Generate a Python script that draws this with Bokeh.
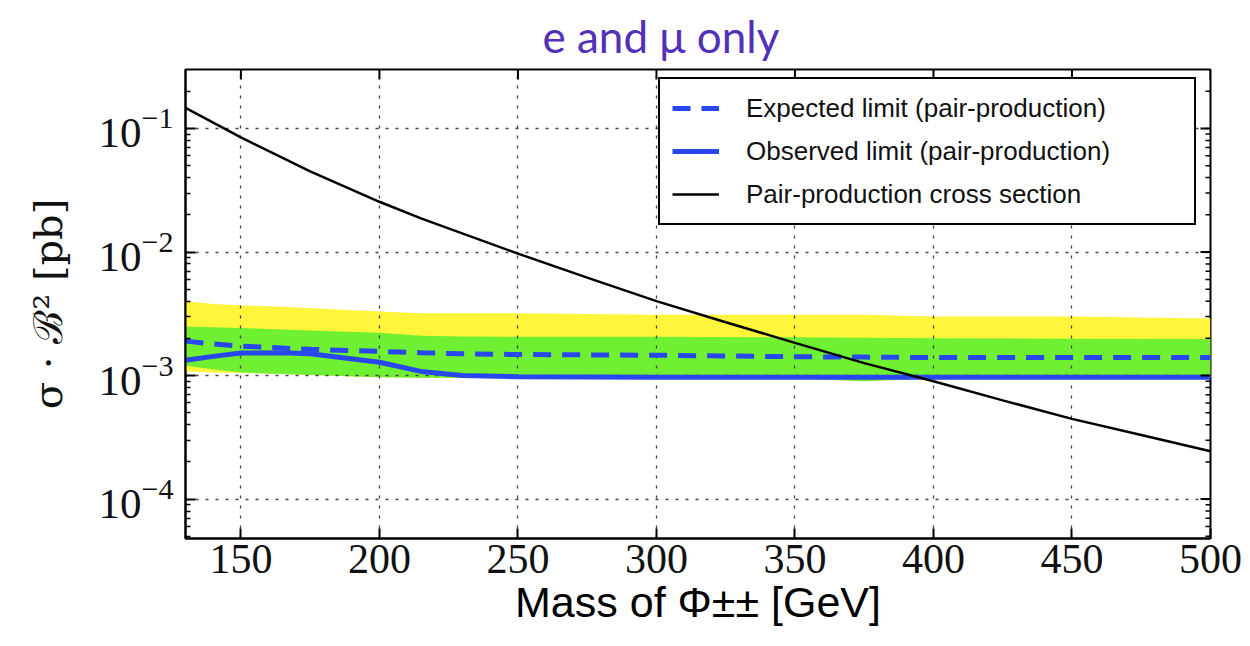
import math
from bokeh.plotting import figure
from bokeh.models import Legend, LegendItem, FixedTicker, Range1d
from bokeh.embed import file_html
from bokeh.resources import INLINE

# ---------------- data ----------------
mass_band = [130, 140, 150, 165, 175, 200, 215, 230, 250, 300, 350, 375, 400, 450, 500]
yellow_top = [0.0040, 0.0038, 0.0037, 0.0036, 0.0035, 0.0033, 0.0032, 0.0032, 0.0032,
              0.0031, 0.0031, 0.0031, 0.0030, 0.0030, 0.0029]
yellow_bot = [0.00108, 0.00106, 0.00105, 0.00103, 0.00101, 0.00097, 0.00096, 0.00096,
              0.00096, 0.00096, 0.00095, 0.00090, 0.00095, 0.00096, 0.00096]
green_top = [0.00250, 0.00246, 0.00243, 0.00236, 0.00232, 0.00222, 0.00210, 0.00207,
             0.00206, 0.00206, 0.00204, 0.00202, 0.00200, 0.00199, 0.00198]
green_bot = [0.00120, 0.00112, 0.00106, 0.00103, 0.00101, 0.00097, 0.00096, 0.00096,
             0.00096, 0.00096, 0.00095, 0.00090, 0.00095, 0.00096, 0.00096]
expected = [0.00190, 0.00180, 0.00173, 0.00167, 0.00163, 0.00157, 0.00153, 0.00150,
            0.00148, 0.00146, 0.00142, 0.00141, 0.00140, 0.00140, 0.00140]
observed = [0.00133, 0.00143, 0.00152, 0.00153, 0.00150, 0.00128, 0.00108, 0.00100,
            0.00098, 0.00097, 0.00097, 0.00097, 0.00097, 0.00097, 0.00097]

mass_xs = [130, 150, 175, 200, 215, 250, 275, 300, 325, 350, 375, 400, 425, 450, 475, 500]
xsec = [0.147, 0.0846, 0.045, 0.0255, 0.0187, 0.0097, 0.0062, 0.0040, 0.0027, 0.00184,
        0.00126, 0.00090, 0.00063, 0.000446, 0.00033, 0.000244]

x_ticks = [150, 200, 250, 300, 350, 400, 450, 500]
y_ticks = [1e-4, 1e-3, 1e-2, 1e-1]
y_minor = [m * 10.0 ** e for e in range(-5, 0) for m in range(2, 10)]

title_text = "e and μ only"
x_label = "Mass of Φ±± [GeV]"
y_label = "σ · ℬ² [pb]"
legend_labels = ["Expected limit (pair-production)",
                 "Observed limit (pair-production)",
                 "Pair-production cross section"]

# ---------------- figure ----------------
X0, X1 = 130, 500
Y0, Y1 = 4.8e-5, 0.3
FW, FH = 1025, 469   # frame size in px
p = figure(width=1250, height=646, x_range=Range1d(X0, X1),
           y_range=Range1d(Y0, Y1), y_axis_type="log",
           output_backend="svg", toolbar_location=None,
           min_border_left=185, min_border_right=40,
           min_border_top=69, min_border_bottom=108)
p.background_fill_color = "white"
p.outline_line_color = "black"
p.outline_line_width = 2

p.title.text = title_text
p.title.text_font = "Lato"
p.title.text_font_size = "44px"
p.title.text_font_style = "normal"
p.title.text_color = "#5230B8"
p.title.align = "left"
p.title.offset = 357
p.title.standoff = 15

BLUE = "#2848EE"
p.varea(x=mass_band, y1=yellow_bot, y2=yellow_top, fill_color="#FFF53A", level="image")
p.varea(x=mass_band, y1=green_bot, y2=green_top, fill_color="#70F032", level="image")
r_exp = p.line(mass_band, expected, line_color=BLUE, line_width=5, line_dash="18 11")
r_obs = p.line(mass_band, observed, line_color=BLUE, line_width=5)
r_xs = p.line(mass_xs, xsec, line_color="black", line_width=2.5)

xt = FixedTicker(ticks=x_ticks, minor_ticks=[])
yt = FixedTicker(ticks=y_ticks, minor_ticks=y_minor)

tick_font = "Liberation Serif"
for ax in (p.xaxis[0], p.yaxis[0]):
    ax.axis_line_width = 2
    ax.major_tick_in = 10
    ax.major_tick_out = 0
    ax.minor_tick_in = 5
    ax.minor_tick_out = 0
    ax.major_tick_line_width = 2
    ax.minor_tick_line_width = 1.5
    ax.major_label_text_font = tick_font
    ax.major_label_text_color = "#111111"
p.yaxis[0].major_label_text_font_size = "43px"
p.xaxis[0].major_label_text_font_size = "42px"

p.xaxis[0].ticker = xt
p.xaxis[0].major_label_standoff = 6
p.xaxis[0].axis_label = x_label
p.xaxis[0].axis_label_text_font = "Liberation Sans"
p.xaxis[0].axis_label_text_font_style = "normal"
p.xaxis[0].axis_label_text_font_size = "43px"
p.xaxis[0].axis_label_text_color = "black"
p.xaxis[0].axis_label_standoff = 2

p.yaxis[0].ticker = yt
p.yaxis[0].major_label_standoff = 12
p.yaxis[0].axis_label = y_label
p.yaxis[0].axis_label_text_font = "DejaVu Serif"
p.yaxis[0].axis_label_text_font_style = "normal"
p.yaxis[0].axis_label_text_font_size = "40px"
p.yaxis[0].axis_label_text_color = "#111111"
p.yaxis[0].axis_label_standoff = 24

# mirrored ticks on the top and right edges (lengths converted from px to data units)
dx_major = (X1 - X0) * 10 / FW
lg = math.log10(Y1 / Y0)
fy_major = 10 ** (-lg * 10 / FH)
dx_minor = dx_major / 2
p.segment(x0=x_ticks, y0=[Y1] * len(x_ticks), x1=x_ticks,
          y1=[Y1 * fy_major] * len(x_ticks), line_color="black", line_width=2)
p.segment(x0=[X1] * len(y_ticks), y0=y_ticks, x1=[X1 - dx_major] * len(y_ticks),
          y1=y_ticks, line_color="black", line_width=2)
ym_in = [v for v in y_minor if Y0 <= v <= Y1]
p.segment(x0=[X1] * len(ym_in), y0=ym_in, x1=[X1 - dx_minor] * len(ym_in),
          y1=ym_in, line_color="black", line_width=1.5)

p.xgrid.ticker = xt
p.ygrid.ticker = FixedTicker(ticks=y_ticks)
for g in (p.xgrid[0], p.ygrid[0]):
    g.grid_line_color = "#444444"
    g.grid_line_dash = "3 7"
    g.grid_line_width = 1.3

legend = Legend(items=[LegendItem(label=legend_labels[0], renderers=[r_exp]),
                       LegendItem(label=legend_labels[1], renderers=[r_obs]),
                       LegendItem(label=legend_labels[2], renderers=[r_xs])],
                location=(473, 313), label_text_font="Liberation Sans",
                label_text_font_size="26px", label_text_color="#111111",
                glyph_width=47, glyph_height=30,
                label_height=34, spacing=9, padding=12, margin=0,
                label_standoff=27, label_width=436,
                border_line_color="black", border_line_width=2, border_line_alpha=1,
                background_fill_color="white", background_fill_alpha=1)
p.add_layout(legend)

open("out.html", "w").write(file_html(p, INLINE))
